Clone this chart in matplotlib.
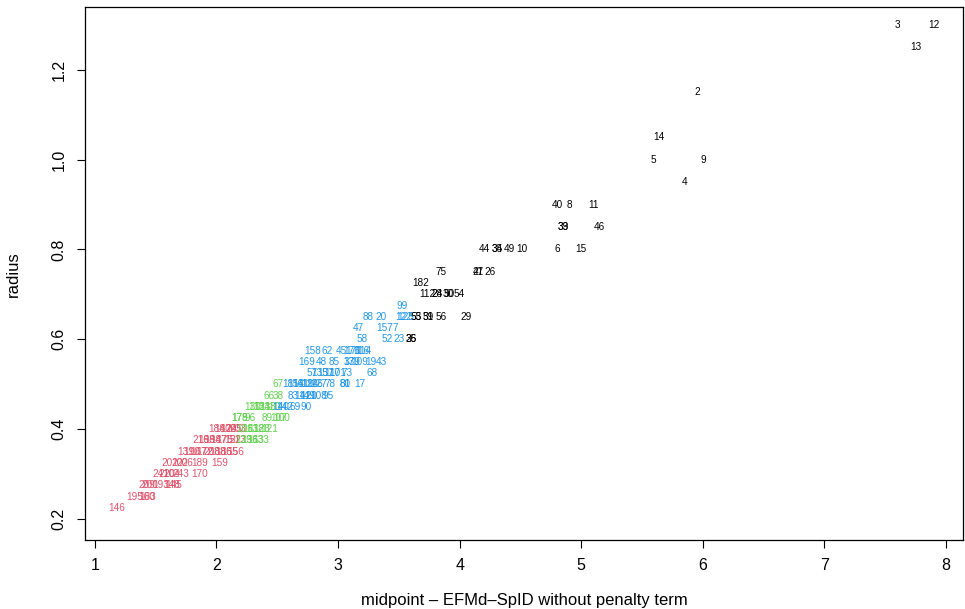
import matplotlib
matplotlib.use("Agg")
import matplotlib.pyplot as plt

plt.rcParams['font.family'] = ['Liberation Sans', 'DejaVu Sans']

# Кластер 1 (чёрный)
black_labels = [36, 25, 55, 53, 59, 31, 56, 29, 112, 28, 24, 30, 50, 54, 182,
                75, 27, 41, 26, 44, 35, 34, 49, 10, 6, 15, 33, 39, 46, 40, 8, 11,
                4, 5, 9, 14, 2, 13, 3, 12]
black_x = [3.60, 3.60, 3.64, 3.64, 3.74, 3.74, 3.85, 4.05, 3.73, 3.81, 3.81, 3.91, 3.91, 4.00, 3.68,
           3.85, 4.15, 4.15, 4.25, 4.20, 4.31, 4.31, 4.41, 4.51, 4.80, 5.00, 4.85, 4.85, 5.15, 4.80, 4.90, 5.10,
           5.85, 5.59, 6.00, 5.64, 5.95, 7.75, 7.60, 7.90]
black_y = [0.6, 0.6, 0.65, 0.65, 0.65, 0.65, 0.65, 0.65, 0.7, 0.7, 0.7, 0.7, 0.7, 0.7, 0.725,
           0.75, 0.75, 0.75, 0.75, 0.8, 0.8, 0.8, 0.8, 0.8, 0.8, 0.8, 0.85, 0.85, 0.85, 0.9, 0.9, 0.9,
           0.95, 1.0, 1.0, 1.05, 1.15, 1.25, 1.3, 1.3]

# Кластер 2 (красный)
red_labels = [146, 195, 183, 160, 209, 200, 193, 148, 145, 241, 210, 204, 243, 170,
              201, 202, 206, 189, 159, 131, 190, 167, 172, 208, 188, 186, 155, 156,
              216, 198, 194, 187, 175, 152, 213, 184, 180, 174, 205, 203]
red_x = [1.18, 1.33, 1.43, 1.43, 1.43, 1.45, 1.54, 1.63, 1.65, 1.54, 1.59, 1.63, 1.71, 1.86,
         1.62, 1.70, 1.74, 1.86, 2.03, 1.75, 1.80, 1.85, 1.90, 1.96, 2.01, 2.06, 2.11, 2.16,
         1.87, 1.92, 1.97, 2.02, 2.07, 2.13, 2.18, 2.00, 2.05, 2.10, 2.14, 2.18]
red_y = [0.225, 0.25, 0.25, 0.25, 0.275, 0.275, 0.275, 0.275, 0.275, 0.3, 0.3, 0.3, 0.3, 0.3,
         0.325, 0.325, 0.325, 0.325, 0.325, 0.35, 0.35, 0.35, 0.35, 0.35, 0.35, 0.35, 0.35, 0.35,
         0.375, 0.375, 0.375, 0.375, 0.375, 0.375, 0.375, 0.4, 0.4, 0.4, 0.4, 0.4]

# Кластер 3 (зелёный)
green_labels = [129, 136, 163, 133, 106, 113, 118, 128, 121, 178, 179, 96, 89, 107, 100,
                130, 132, 134, 138, 110, 66, 38, 67]
green_x = [2.22, 2.27, 2.32, 2.36, 2.23, 2.28, 2.33, 2.37, 2.44, 2.19, 2.19, 2.28, 2.42, 2.51, 2.54,
           2.30, 2.33, 2.37, 2.42, 2.46, 2.43, 2.51, 2.51]
green_y = [0.375, 0.375, 0.375, 0.375, 0.4, 0.4, 0.4, 0.4, 0.4, 0.425, 0.425, 0.425, 0.425, 0.425, 0.425,
           0.45, 0.45, 0.45, 0.45, 0.45, 0.475, 0.475, 0.5]

# Кластер 4 (синий)
blue_labels = [140, 142, 69, 90, 83, 141, 149, 120, 108, 95,
               181, 154, 161, 119, 124, 126, 127, 78, 80, 81, 17,
               57, 135, 137, 117, 101, 73, 68,
               169, 48, 85, 37, 139, 109, 19, 43,
               158, 62, 45, 176, 171, 116, 114,
               58, 52, 23, 47, 157, 7, 88, 20, 122, 125, 99]
blue_x = [2.53, 2.56, 2.65, 2.74, 2.63, 2.71, 2.74, 2.76, 2.84, 2.92,
          2.61, 2.65, 2.69, 2.73, 2.77, 2.81, 2.84, 2.93, 3.06, 3.06, 3.18,
          2.79, 2.85, 2.90, 2.95, 3.00, 3.07, 3.28,
          2.74, 2.86, 2.97, 3.09, 3.11, 3.18, 3.27, 3.36,
          2.79, 2.91, 3.03, 3.11, 3.13, 3.19, 3.21,
          3.20, 3.40, 3.50, 3.17, 3.38, 3.47, 3.25, 3.35, 3.54, 3.56, 3.53]
blue_y = [0.45, 0.45, 0.45, 0.45, 0.475, 0.475, 0.475, 0.475, 0.475, 0.475,
          0.5, 0.5, 0.5, 0.5, 0.5, 0.5, 0.5, 0.5, 0.5, 0.5, 0.5,
          0.525, 0.525, 0.525, 0.525, 0.525, 0.525, 0.525,
          0.55, 0.55, 0.55, 0.55, 0.55, 0.55, 0.55, 0.55,
          0.575, 0.575, 0.575, 0.575, 0.575, 0.575, 0.575,
          0.6, 0.6, 0.6, 0.625, 0.625, 0.625, 0.65, 0.65, 0.65, 0.65, 0.675]

clusters = [
    (black_labels, black_x, black_y, "black"),
    (red_labels, red_x, red_y, "#DF536B"),
    (green_labels, green_x, green_y, "#61D04F"),
    (blue_labels, blue_x, blue_y, "#2297E6"),
]

fig = plt.figure(figsize=(9.65, 6.09), dpi=100)
ax = fig.add_axes([0.088, 0.113, 0.910, 0.875])

# подписи точек номерами наблюдений, цвет по кластеру
for labels, xs, ys, col in clusters:
    for lab, x, y in zip(labels, xs, ys):
        ax.text(x, y, str(lab), color=col, fontsize=7.2, ha="center", va="center")

ax.set_xlim(0.918, 8.14)
ax.set_ylim(0.153, 1.339)
ax.set_xticks([1, 2, 3, 4, 5, 6, 7, 8])
ax.set_yticks([0.2, 0.4, 0.6, 0.8, 1.0, 1.2])
ax.set_yticklabels(["0.2", "0.4", "0.6", "0.8", "1.0", "1.2"], rotation=90, va="center")
ax.tick_params(direction="out", length=6, labelsize=11.5, pad=7)
for s in ax.spines.values():
    s.set_linewidth(0.9)

ax.set_xlabel("midpoint \u2013 EFMd\u2013SpID without penalty term", fontsize=12, labelpad=14)
ax.set_ylabel("radius", fontsize=12, labelpad=22)

fig.savefig("out.png", dpi=100)
